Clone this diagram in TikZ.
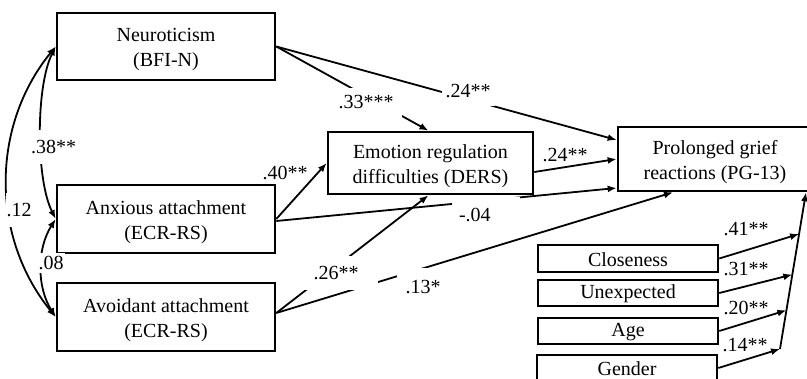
\documentclass[tikz,border=0pt]{standalone}
\usepackage{fontspec}
\setmainfont{Liberation Serif}
\usetikzlibrary{arrows.meta,calc}
\newcommand{\tstrut}{\rule{0pt}{20pt}}
\begin{document}
\begin{tikzpicture}[x=1pt,y=-1pt,
  font=\fontsize{20}{25}\selectfont,
  bx/.style={draw,line width=2.6pt,fill=white,align=center,inner sep=0pt},
  conn/.style={line width=1.8pt,-{Latex[length=9pt,width=7pt]}},
  cov/.style={line width=1.8pt,{Latex[length=9pt,width=7pt]}-{Latex[length=9pt,width=7pt]}},
  lab/.style={fill=white,inner xsep=4pt,inner ysep=8pt},
  plain/.style={inner sep=1pt}]
\useasboundingbox (0,0) rectangle (807,379);
\clip (0,0) rectangle (807,379);
% boxes
\node[bx,minimum width=218pt,minimum height=67pt] (neu) at (166,46.5) {\tstrut Neuroticism\\(BFI-N)};
\node[bx,minimum width=218pt,minimum height=68pt] (anx) at (166,219) {\tstrut Anxious attachment\\(ECR-RS)};
\node[bx,minimum width=218pt,minimum height=68pt] (avo) at (166,317) {\tstrut Avoidant attachment\\(ECR-RS)};
\node[bx,minimum width=205pt,minimum height=62pt] (emo) at (430.5,163) {\tstrut Emotion regulation\\difficulties (DERS)};
\node[bx,minimum width=194pt,minimum height=64pt] (pg) at (715,159) {\tstrut Prolonged grief\\reactions (PG-13)};
\node[bx,minimum width=180pt,minimum height=27pt] (clo) at (628,258.5) {\rule{0pt}{16pt}Closeness};
\node[bx,minimum width=180pt,minimum height=26pt] (une) at (628,293) {\rule{0pt}{16pt}Unexpected};
\node[bx,minimum width=180pt,minimum height=26pt] (age) at (628,331) {\rule{0pt}{16pt}Age};
\node[bx,minimum width=180pt,minimum height=26pt] (gen) at (627,368) {\rule{0pt}{16pt}Gender};
% main paths
\draw[conn] (neu.east) -- ([yshift=19pt]pg.west);
\draw[conn] (neu.east) -- ([xshift=-2pt]emo.north);
\draw[conn] (anx.east) -- (emo.west);
\draw[conn] ([yshift=-2pt]anx.east) -- ([yshift=-29pt]pg.west);
\draw[conn] ([yshift=4pt]avo.east) -- ([xshift=-2pt]emo.south);
\draw[conn] ([yshift=4pt]avo.east) -- ([xshift=-42pt]pg.south);
\draw[conn] ([yshift=-9pt]emo.east) -- (pg.west);
% covariates
\coordinate (cb) at (780,349);
\coordinate (ct) at ([xshift=91pt]pg.south);
\draw[conn] (cb) -- (ct);
\draw[conn] (clo.east) -- ($(cb)!0.734!(ct)$);
\draw[conn] (une.east) -- ($(cb)!0.475!(ct)$);
\draw[conn] (age.east) -- ($(cb)!0.247!(ct)$);
\draw[conn] (gen.east) -- (cb);
% correlations
\draw[cov] (anx.west) .. controls +(-20,-40) and +(-20,40) .. (neu.west);
\draw[cov] (avo.west) .. controls +(-65,-80) and +(-65,80) .. (neu.west);
\draw[cov] (avo.west) .. controls +(-19,-30) and +(-19,30) .. (anx.west);
% labels
\node[lab,inner xsep=8pt] (l33) at (366,102.5) {.33***};
\node[lab] (l24a) at (468,91.5) {.24**};
\node[plain] (l24b) at (565,155) {.24**};
\node[plain] (l40) at (285,173) {.40**};
\node[fill=white,text width=54pt,align=left,inner xsep=7pt,inner ysep=11pt] (l04) at (486,215) {-.04};
\node[fill=white,inner sep=0pt,minimum width=84pt,minimum height=34pt] (l26) at (336,273) {.26**};
\node[fill=white,inner sep=0pt,minimum width=52pt,minimum height=38pt] (l13) at (423,287) {.13*};
\node[fill=white,inner xsep=1pt,inner ysep=0pt,minimum height=34pt] (l38) at (53.5,147) {.38**};
\node[fill=white,inner xsep=1pt,inner ysep=0pt,minimum height=34pt] (l12) at (19,210) {.12};
\node[fill=white,inner xsep=1pt,inner ysep=3pt] (l08) at (51,263) {.08};
\node[plain] (l41) at (746,229) {.41**};
\node[plain] (l31) at (746,269) {.31**};
\node[plain] (l20) at (746,308) {.20**};
\node[plain] (l14) at (745,345) {.14**};
\end{tikzpicture}
\end{document}
